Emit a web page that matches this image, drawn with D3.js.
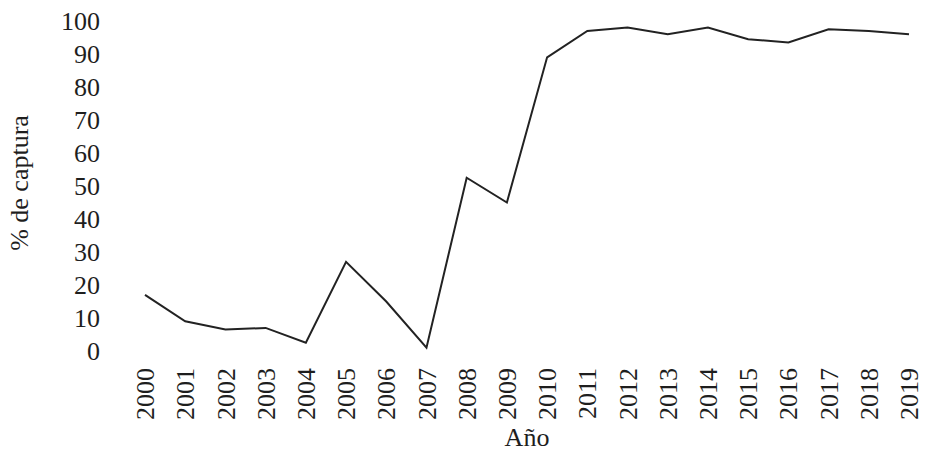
<!DOCTYPE html>
<html>
<head>
<meta charset="utf-8">
<script src="https://cdn.jsdelivr.net/npm/d3@7"></script>
<style>
  body { margin: 0; background: #fff; }
  svg text { font-family: "Liberation Serif", "Times New Roman", Times, "DejaVu Serif", serif !important; fill: #1e1e1e; }
</style>
</head>
<body>
<div id="chart"></div>
<script>
// Data
const years = ['2000', '2001', '2002', '2003', '2004', '2005', '2006', '2007', '2008', '2009',
  '2010', '2011', '2012', '2013', '2014', '2015', '2016', '2017', '2018', '2019'];
const captura = [17, 9, 6.5, 7, 2.5, 27, 15, 1, 52.5, 45, 89, 97, 98, 96, 98, 94.5, 93.5, 97.5, 97, 96];
const yTicks = [0, 10, 20, 30, 40, 50, 60, 70, 80, 90, 100];

const W = 925;
const H = 454;
const margin = { t: 21, r: 16, b: 103, l: 145 };
const fontSize = '26px';

const scaleX = d3.scalePoint().domain(years).range([margin.l, W - margin.r]);
const scaleY = d3.scaleLinear().domain([0, 100]).range([H - margin.b, margin.t]);

const svg = d3.select('#chart')
  .append('svg')
  .attr('width', W)
  .attr('height', H);

// Axes (no domain lines, no tick marks)
const yAxis = d3.axisLeft(scaleY).tickValues(yTicks).tickSize(0).tickPadding(0);
svg.append('g')
  .attr('class', 'axis axis--y')
  .attr('transform', 'translate(100, 0)')
  .call(yAxis)
  .attr('font-family', null)
  .call(g => g.select('.domain').remove())
  .selectAll('text')
  .style('font-size', fontSize)
  .attr('fill', '#1e1e1e');

const xAxis = d3.axisBottom(scaleX).tickSize(0).tickPadding(0);
svg.append('g')
  .attr('class', 'axis axis--x')
  .attr('transform', 'translate(0, 368)')
  .call(xAxis)
  .attr('font-family', null)
  .call(g => g.select('.domain').remove())
  .selectAll('text')
  .style('font-size', fontSize)
  .attr('fill', '#1e1e1e')
  .attr('text-anchor', 'end')
  .attr('transform', 'rotate(-90)')
  .attr('x', 0)
  .attr('y', 0)
  .attr('dx', 0)
  .attr('dy', '0.33em');

// Line
const line = d3.line()
  .x((d, i) => scaleX(years[i]))
  .y(d => scaleY(d));

svg.append('path')
  .datum(captura)
  .attr('fill', 'none')
  .attr('stroke', '#222')
  .attr('stroke-width', 2)
  .attr('d', line);

// Axis titles
svg.append('text')
  .attr('x', (margin.l + W - margin.r) / 2)
  .attr('y', 446)
  .attr('text-anchor', 'middle')
  .style('font-size', fontSize)
  .text('Año');

svg.append('text')
  .attr('transform', 'translate(28, 183) rotate(-90)')
  .attr('text-anchor', 'middle')
  .style('font-size', fontSize)
  .text('% de captura');
</script>
</body>
</html>
